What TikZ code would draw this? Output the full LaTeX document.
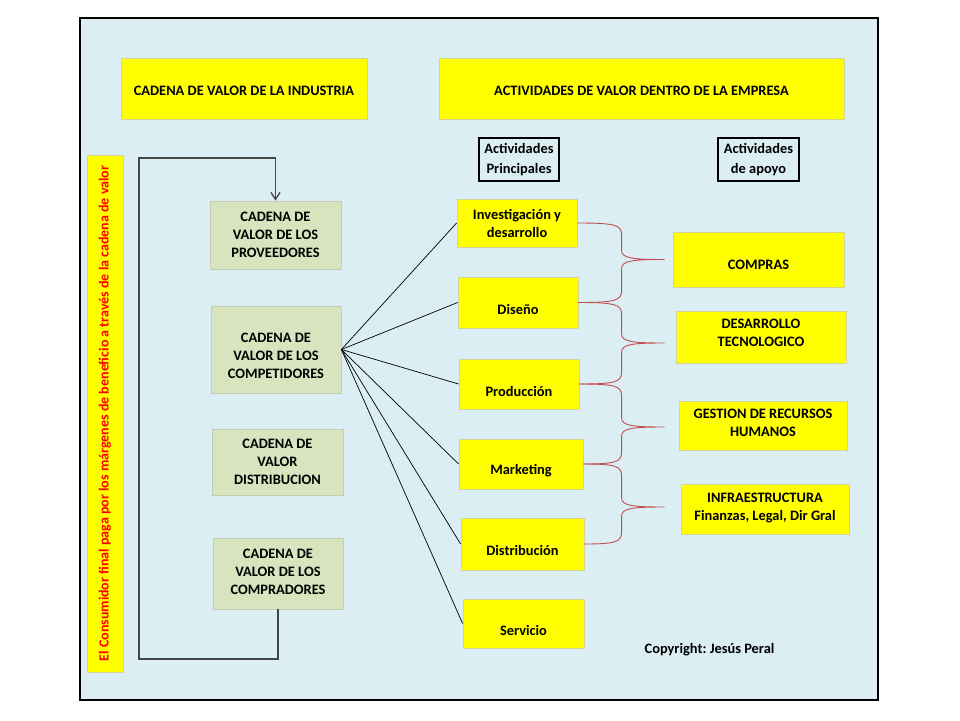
\documentclass[tikz,border=0pt]{standalone}
\usepackage{fontspec}
\setmainfont{Carlito}
\usetikzlibrary{arrows.meta,calc}
\definecolor{panelbg}{HTML}{DBEEF4}
\definecolor{yel}{HTML}{FFFF00}
\definecolor{yelb}{HTML}{D6D29A}
\definecolor{grn}{HTML}{D7E4BD}
\definecolor{grnb}{HTML}{C4CDB0}
\definecolor{bracecol}{HTML}{C0504D}
\definecolor{loopcol}{HTML}{454545}
\newcommand{\redbrace}[3]{%
  \draw[bracestyle] let \p1=(#1), \p2=(#2), \p3=(#3), \n1={\x2-43pt} in
   (\p1) .. controls (\n1-6pt,\y1) and (\n1,\y1-2pt) .. (\n1,\y1-12pt)
   -- (\n1,\y2+9pt) .. controls (\n1,\y2+1pt) and (\n1+12pt,\y2) .. (\p2)
   .. controls (\n1+12pt,\y2) and (\n1,\y2-1pt) .. (\n1,\y2-9pt)
   -- (\n1,\y3+12pt) .. controls (\n1,\y3+2pt) and (\n1-6pt,\y3) .. (\p3);}
\frenchspacing
\begin{document}
\begin{tikzpicture}[x=1pt,y=-1pt,
  font=\fontsize{14.4}{18}\selectfont\bfseries,
  ybox/.style={draw=yelb, fill=yel, line width=0.8pt, inner sep=0pt, align=center},
  gbox/.style={draw=grnb, fill=grn, line width=0.8pt, inner sep=0pt, align=center},
  abox/.style={draw=black, line width=2pt, inner sep=0pt, align=center, font=\fontsize{14.4}{20}\selectfont\bfseries},
  lbl/.style={align=center, inner sep=0pt},
  fan/.style={draw=black, line width=0.7pt},
  loopline/.style={draw=loopcol, line width=1.3pt},
  bracestyle/.style={draw=bracecol, line width=0.9pt}]
\useasboundingbox[fill=white] (0,0) rectangle (960,720);
\node[draw=black, fill=panelbg, line width=1.5pt, minimum width=798pt, minimum height=682pt, inner sep=0pt] (panel) at (479,359) {};

% titles
\node[ybox, minimum width=246pt, minimum height=61pt, label={[lbl,yshift=-2pt]center:CADENA DE VALOR DE LA INDUSTRIA}] (t1) at (244,88.5) {};
\node[ybox, minimum width=405pt, minimum height=61pt, label={[lbl,yshift=-2pt]center:ACTIVIDADES DE VALOR DENTRO DE LA EMPRESA}] (t2) at (641.5,88.5) {};

% left vertical bar
\node[ybox, rotate=90, minimum width=517pt, minimum height=36pt, text=red, font=\fontsize{14}{17}\selectfont\bfseries] (bar) at (105,413.5) {El Consumidor final paga por los márgenes de beneficio a través de la cadena de valor};

% industry chain boxes
\node[gbox, minimum width=131pt, minimum height=68pt, label={[lbl]center:CADENA DE\\VALOR DE LOS\\PROVEEDORES}] (prov) at (275.5,235) {};
\node[gbox, minimum width=130pt, minimum height=87pt, label={[lbl,yshift=-6pt]center:CADENA DE\\VALOR DE LOS\\COMPETIDORES}] (comp) at (276,349.5) {};
\node[gbox, minimum width=131pt, minimum height=66pt, label={[lbl]center:CADENA DE\\VALOR\\DISTRIBUCION}] (dist) at (277.5,462) {};
\node[gbox, minimum width=130pt, minimum height=71pt, label={[lbl,yshift=2pt]center:CADENA DE\\VALOR DE LOS\\COMPRADORES}] (compr) at (278,573.5) {};

% headers
\node[abox, minimum width=80pt, minimum height=43pt] (actp) at (519,159.5) {Actividades\\Principales};
\node[abox, minimum width=81pt, minimum height=43pt] (acta) at (758.5,159.5) {Actividades\\de apoyo};

% primary activities
\node[ybox, minimum width=120pt, minimum height=48pt, label={[lbl]center:Investigación y\\desarrollo}] (iyd) at (517,223) {};
\node[ybox, minimum width=120pt, minimum height=51pt, label={[lbl,yshift=-7pt]center:Diseño}] (dis) at (518,302.5) {};
\node[ybox, minimum width=120pt, minimum height=50pt, label={[lbl,yshift=-7pt]center:Producción}] (prod) at (519,384) {};
\node[ybox, minimum width=124pt, minimum height=50pt, label={[lbl,yshift=-7pt]center:Marketing}] (mkt) at (521,464) {};
\node[ybox, minimum width=123pt, minimum height=52pt, label={[lbl,yshift=-6pt]center:Distribución}] (distr) at (522.5,544) {};
\node[ybox, minimum width=121pt, minimum height=49pt, label={[lbl,yshift=-7pt]center:Servicio}] (serv) at (523.5,623.5) {};

% support activities
\node[ybox, minimum width=171pt, minimum height=55pt, label={[lbl,yshift=-5pt]center:COMPRAS}] (compras) at (758.5,259.5) {};
\node[ybox, minimum width=170pt, minimum height=52pt, label={[lbl,yshift=4pt]center:DESARROLLO\\TECNOLOGICO}] (dt) at (761,337) {};
\node[ybox, minimum width=168pt, minimum height=49pt, label={[lbl,yshift=3pt]center:GESTION DE RECURSOS\\HUMANOS}] (grh) at (763,425.5) {};
\node[ybox, minimum width=168pt, minimum height=50pt, label={[lbl,yshift=1pt]center:INFRAESTRUCTURA\\Finanzas, Legal, Dir Gral}] (infra) at (765,509) {};

\node[lbl] (copy) at (709.5,650) {Copyright: Jesús Peral};

% loop connector
\coordinate (lb) at (139,659);
\coordinate (lt) at (139,158);
\draw[loopline, -{Straight Barb[length=7pt,width=9pt]}] (compr.south) -- (compr.south |- lb) -- (lb) -- (lt) -- (lt -| prov.north) -- (prov.north);

% fan connectors
\draw[fan] (comp.east) -- (iyd.west);
\draw[fan] (comp.east) -- (dis.west);
\draw[fan] (comp.east) -- (prod.west);
\draw[fan] (comp.east) -- (mkt.west);
\draw[fan] (comp.east) -- (distr.west);
\draw[fan] (comp.east) -- (serv.west);

% braces
\coordinate (tip1) at ([xshift=-8pt]compras.west);
\coordinate (tip2) at ([xshift=-11pt,yshift=-6pt]dt.west);
\coordinate (tip3) at ([xshift=-14pt,yshift=-1.5pt]grh.west);
\coordinate (tip4) at ([xshift=-16pt,yshift=2pt]infra.west);
\redbrace{iyd.east}{tip1}{dis.east}
\redbrace{dis.east}{tip2}{prod.east}
\redbrace{prod.east}{tip3}{mkt.east}
\redbrace{mkt.east}{tip4}{distr.east}
\end{tikzpicture}
\end{document}
